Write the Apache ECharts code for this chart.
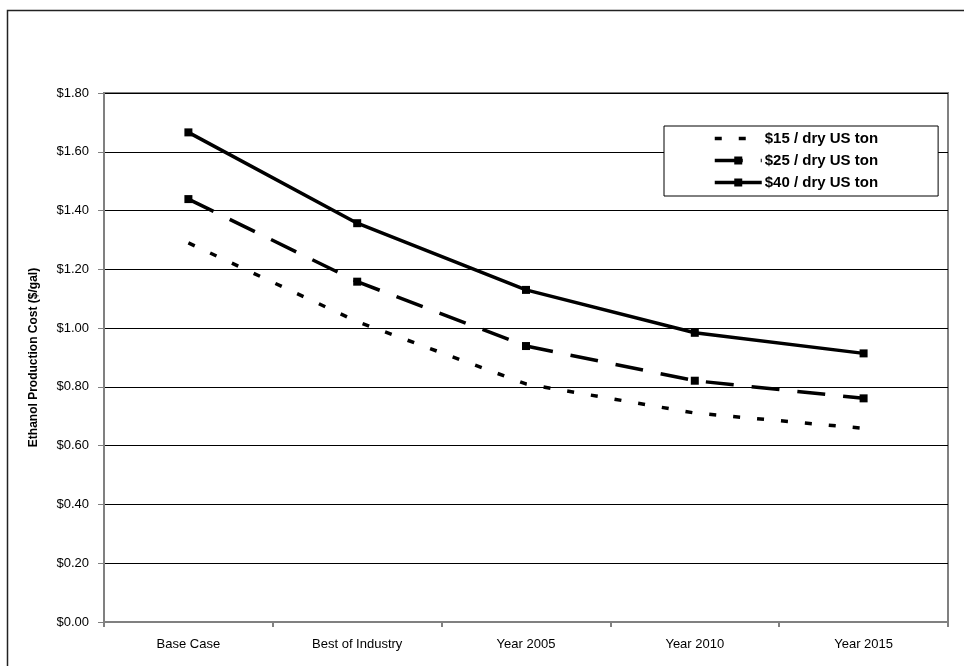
<!DOCTYPE html>
<html>
<head>
<meta charset="utf-8">
<script src="https://cdn.jsdelivr.net/npm/echarts@6/dist/echarts.min.js"></script>
<style>html,body{margin:0;padding:0;background:#fff}#c{width:964px;height:666px}</style>
</head>
<body>
<div id="c"></div>
<script>
var categories = ['Base Case', 'Best of Industry', 'Year 2005', 'Year 2010', 'Year 2015'];
var s15 = [1.29, 1.022, 0.81, 0.711, 0.659];
var s25 = [1.439, 1.158, 0.939, 0.821, 0.761];
var s40 = [1.666, 1.357, 1.130, 0.984, 0.914];
var seriesNames = ['$15 / dry US ton', '$25 / dry US ton', '$40 / dry US ton'];
var yTicks = { min: 0, max: 1.8, interval: 0.2 };

var FONT = 'Arial, "Liberation Sans", sans-serif';
var chart = echarts.init(document.getElementById('c'), null, { renderer: 'canvas' });
chart.setOption({
  animation: false,
  backgroundColor: '#fff',
  textStyle: { fontFamily: FONT, color: '#000' },
  graphic: [{
    type: 'rect', silent: true, z: -10,
    shape: { x: 7.5, y: 10.5, width: 1000, height: 1000 },
    style: { fill: 'none', stroke: '#222', lineWidth: 1.5 }
  }],
  grid: { left: 104, top: 93, right: 16, bottom: 44, show: true, borderColor: '#808080', borderWidth: 2, containLabel: false },
  legend: {
    show: true, orient: 'vertical', left: 664, top: 126,
    data: [
      { name: seriesNames[0], itemStyle: { opacity: 0 }, lineStyle: { width: 3.5 } },
      { name: seriesNames[1], lineStyle: { width: 3.5 } },
      { name: seriesNames[2], lineStyle: { width: 3.5 } }
    ],
    backgroundColor: '#fff', borderColor: '#000', borderWidth: 1,
    padding: [4, 60, 5, 49], itemWidth: 47, itemHeight: 10, itemGap: 5,
    textStyle: { fontFamily: FONT, fontSize: 15, fontWeight: 'bold', color: '#000', lineHeight: 17, padding: [0, 0, 0, -2] }
  },
  xAxis: {
    type: 'category', data: categories, boundaryGap: true,
    axisLine: { show: true, lineStyle: { color: '#808080', width: 2 } },
    axisTick: { show: true, alignWithLabel: false, length: 5, lineStyle: { color: '#808080', width: 2 } },
    axisLabel: { fontFamily: FONT, fontSize: 13, color: '#000', margin: 16 }
  },
  yAxis: {
    type: 'value', min: yTicks.min, max: yTicks.max, interval: yTicks.interval,
    name: 'Ethanol Production Cost ($/gal)', nameLocation: 'middle', nameGap: 64,
    nameTextStyle: { fontFamily: FONT, fontSize: 12, fontWeight: 'bold', color: '#000' },
    axisLine: { show: true, lineStyle: { color: '#808080', width: 2 } },
    axisTick: { show: true, length: 6, lineStyle: { color: '#808080', width: 1 } },
    axisLabel: { fontFamily: FONT, fontSize: 13, color: '#000', margin: 15,
      formatter: function (v) { return '$' + v.toFixed(2); } },
    splitLine: { show: true, lineStyle: { color: '#000', width: 1 } }
  },
  series: [
    { name: seriesNames[0], type: 'line', data: s15, symbol: 'none',
      lineStyle: { color: '#000', width: 3.5, type: [7, 17] }, itemStyle: { color: '#000' } },
    { name: seriesNames[1], type: 'line', data: s25, symbol: 'rect', symbolSize: 8,
      lineStyle: { color: '#000', width: 3.5, type: [28, 18] }, itemStyle: { color: '#000' } },
    { name: seriesNames[2], type: 'line', data: s40, symbol: 'rect', symbolSize: 8,
      lineStyle: { color: '#000', width: 3.5, type: 'solid' }, itemStyle: { color: '#000' } }
  ]
});
</script>
</body>
</html>
